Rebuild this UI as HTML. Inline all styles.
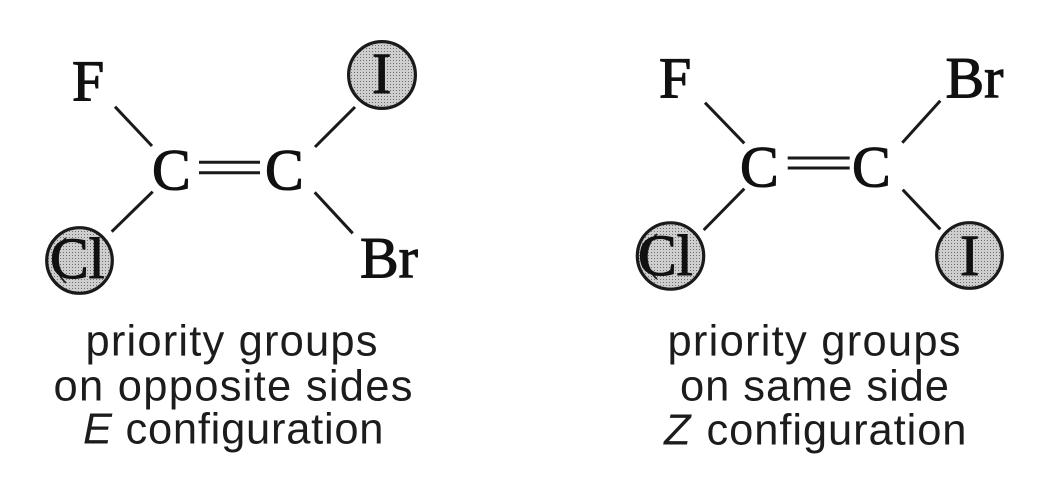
<!DOCTYPE html>
<html><head><meta charset="utf-8"><style>
html,body{margin:0;padding:0;background:#fff;width:1049px;height:479px;overflow:hidden}
svg{display:block}
.m{font-family:"Liberation Serif",serif;font-size:58px;fill:#111;stroke:#111;stroke-width:1.1}
.t{font-family:"Liberation Sans",sans-serif;font-size:43.5px;fill:#1c1c1c}
</style></head><body>
<svg width="1049" height="479" viewBox="0 0 1049 479" xmlns="http://www.w3.org/2000/svg">
<defs><pattern id="d" width="3" height="3" patternUnits="userSpaceOnUse"><rect width="3" height="3" fill="#cecece"/><rect width="1" height="1" fill="#707070"/></pattern></defs>
<g fill="url(#d)" stroke="#1a1a1a" stroke-width="3.2">
<circle cx="382" cy="75" r="33.4"/><circle cx="79.5" cy="260.5" r="32.8"/>
<circle cx="670.5" cy="256" r="33.2"/><circle cx="969.5" cy="255.5" r="32.8"/>
</g>
<g stroke="#1a1a1a" stroke-width="1.8" fill="none">
<path d="M66 238A30 30 0 0 0 66 283"/>
<path d="M657 234A30 30 0 0 0 657 279"/>
</g>
<g stroke="#1a1a1a" stroke-width="3" fill="none">
<path d="M115 106.7L152 146M355 107L315 147M152.7 191.7L111.7 231.7M314.7 192.3L352.7 233.3M199 162.3H260M199 172.7H260"/>
<path d="M705 102.7L744.3 143.3M940.3 100.7L902.3 142.7M744.3 188.7L703.7 230M902.7 189.7L940.3 229.3M787.7 158H849.7M787.7 168H849.7"/>
</g>
<g class="m">
<text x="72" y="100.5">F</text><text x="372" y="93">I</text><text x="152" y="189.5">C</text><text x="265" y="189.5">C</text><text x="50" y="278">Cl</text><text x="360" y="277.5">Br</text>
<text x="659" y="97.5">F</text><text x="945.5" y="97.5">Br</text><text x="740" y="186.5">C</text><text x="852" y="186.5">C</text><text x="638" y="275">Cl</text><text x="960" y="275">I</text>
</g>
<g class="t">
<text x="85.5" y="355.5" textLength="292">priority groups</text>
<text x="53.5" y="400.5" textLength="359">on opposite sides</text>
<text x="83" y="443.5" font-style="italic">E</text>
<text x="125.5" y="443.5" textLength="258">configuration</text>
<text x="667.5" y="355.5" textLength="293">priority groups</text>
<text x="680" y="400.5" textLength="269">on same side</text>
<text x="664" y="444.5" font-style="italic">Z</text>
<text x="706.5" y="444.5" textLength="260">configuration</text>
</g>
</svg>
</body></html>
